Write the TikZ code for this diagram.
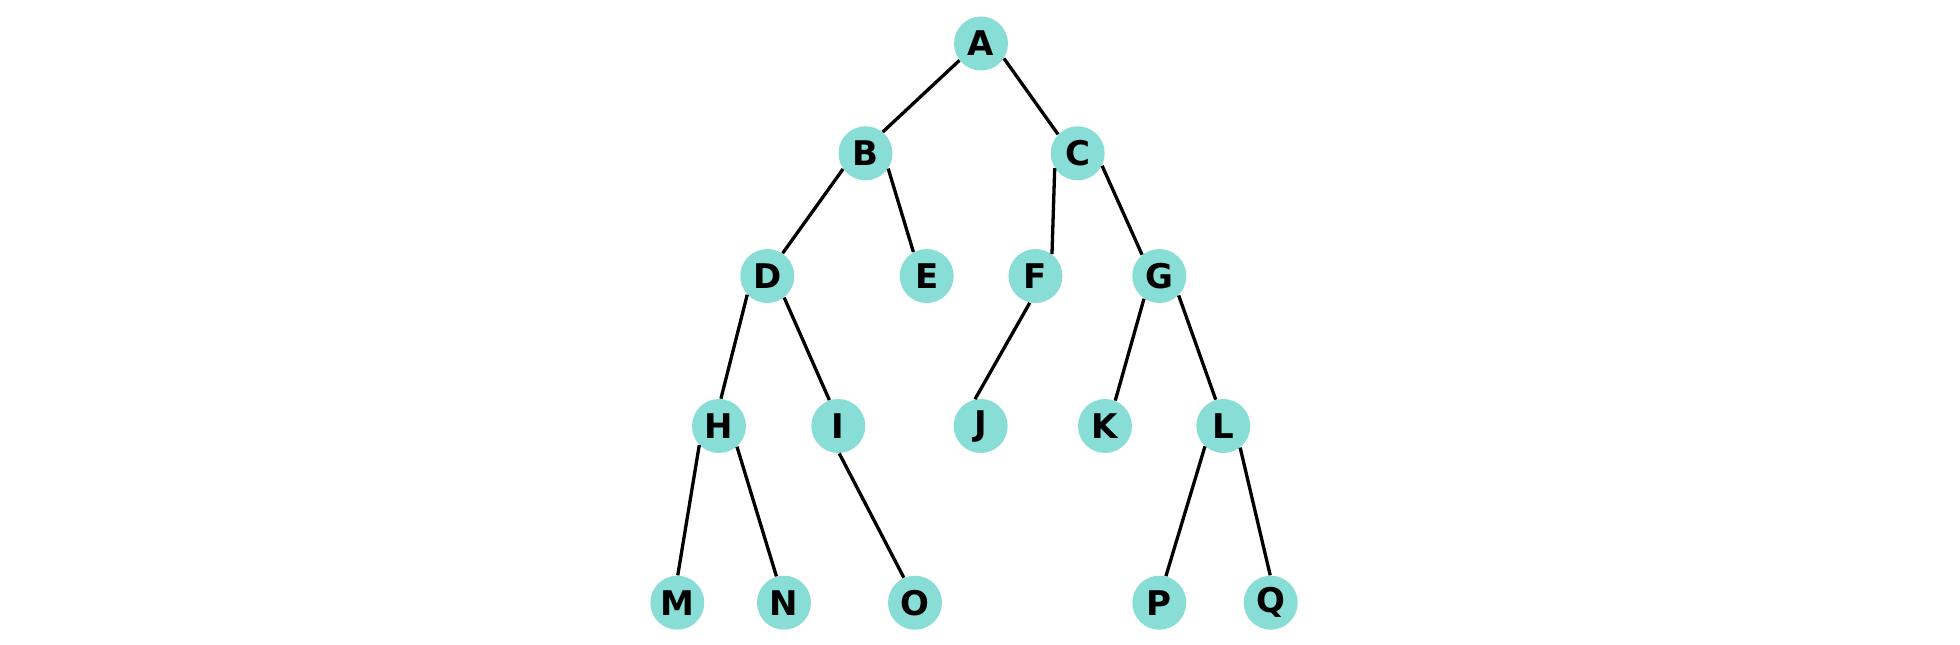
\documentclass[tikz,border=0pt]{standalone}
\usepackage{fontspec}
\usepackage{tikz}
\usetikzlibrary{positioning}
\setmainfont{DejaVu Sans}
\definecolor{leaf}{RGB}{136,222,214}
\tikzset{
	vert/.style={circle,fill=leaf,inner sep=0pt,minimum size=27pt,font=\fontsize{17}{17}\selectfont\bfseries},
	branch/.style={line width=1.65pt,black}
}

\begin{document}
\begin{tikzpicture}[on grid]
	\useasboundingbox (-490.5pt,21.75pt) rectangle (489.5pt,-300.25pt);
	\node[vert] (A) {A};
	\node[vert,below left=54.9pt and 57.75pt of A] (B) {B};
	\node[vert,below right=54.9pt and 48.35pt of A] (C) {C};
	\node[vert,below left=61.35pt and 49.1pt of B] (D) {D};
	\node[vert,below right=61.35pt and 30.6pt of B] (E) {E};
	\node[vert,below left=61.35pt and 21.1pt of C] (F) {F};
	\node[vert,below right=61.35pt and 40.8pt of C] (G) {G};
	\node[vert,below left=75pt and 24.15pt of D] (H) {H};
	\node[vert,below right=75pt and 35.5pt of D] (I) {I};
	\node[vert,below left=75pt and 27.4pt of F] (J) {J};
	\node[vert,below left=75pt and 27.15pt of G] (K) {K};
	\node[vert,below right=75pt and 32pt of G] (L) {L};
	\node[vert,below left=88.35pt and 20.85pt of H] (M) {M};
	\node[vert,below right=88.35pt and 32.5pt of H] (N) {N};
	\node[vert,below right=88.35pt and 38.35pt of I] (O) {O};
	\node[vert,below left=88.35pt and 32pt of L] (P) {P};
	\node[vert,below right=88.35pt and 23.7pt of L] (Q) {Q};

	% branches
	\draw[branch] (A.218) -- (B.51);
	\draw[branch] (A.327) -- (C.136);
	\draw[branch] (B.215) -- (D.56);
	\draw[branch] (B.326) -- (E.119);
	\draw[branch] (C.213) -- (F.53);
	\draw[branch] (C.333) -- (G.129);
	\draw[branch] (D.223) -- (H.86);
	\draw[branch] (D.308) -- (I.109);
	\draw[branch] (F.258) -- (J.102);
	\draw[branch] (G.236) -- (K.68);
	\draw[branch] (G.315) -- (L.106);
	\draw[branch] (H.224) -- (M.89);
	\draw[branch] (H.311) -- (N.106);
	\draw[branch] (I.272) -- (O.114);
	\draw[branch] (L.228) -- (P.76);
	\draw[branch] (L.308) -- (Q.91);
\end{tikzpicture}
\end{document}
